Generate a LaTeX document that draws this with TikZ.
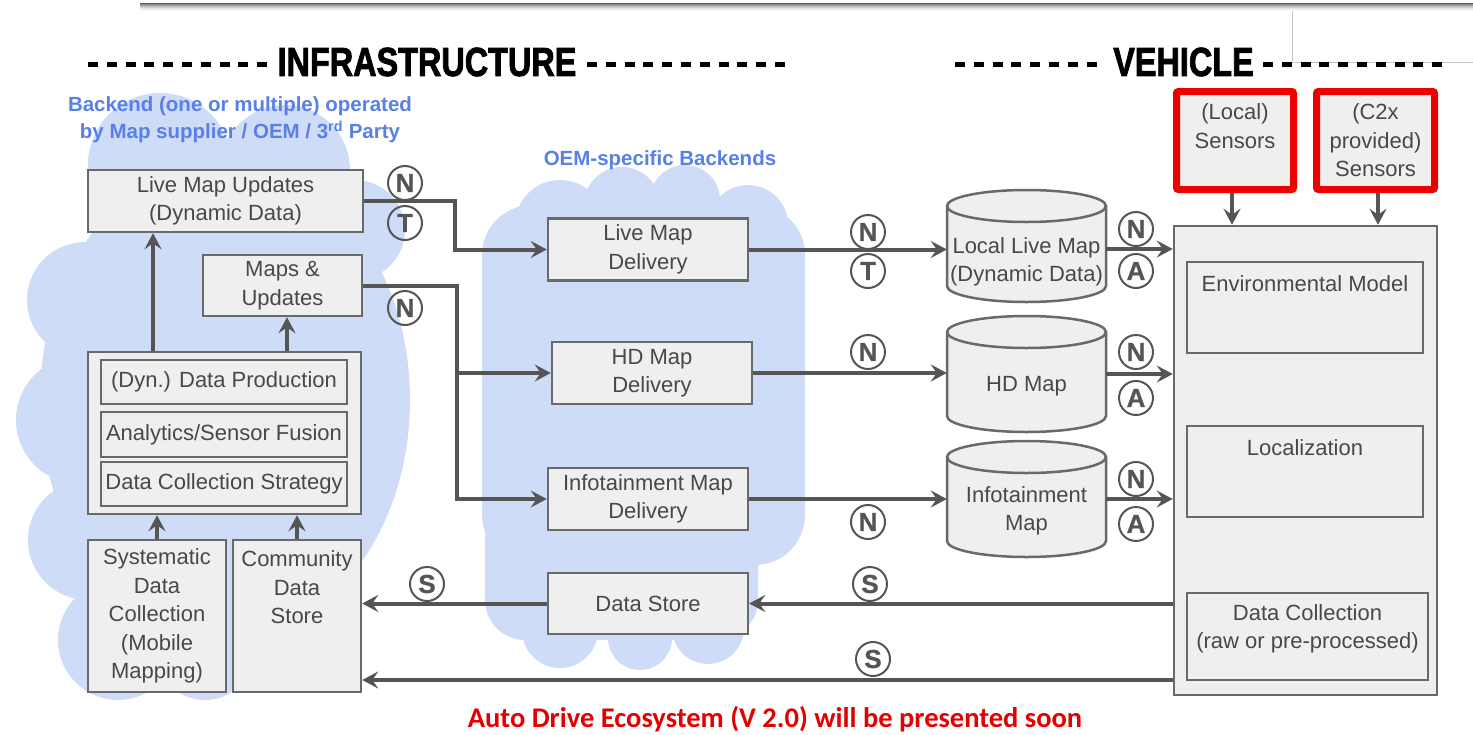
\documentclass[tikz,border=0pt]{standalone}
\usepackage{fontspec}
\usepackage{graphicx}
\setmainfont{Liberation Sans}
\newfontfamily\headfont[FakeBold=2.2]{Liberation Sans}
\newfontfamily\tagfont[FakeBold=0.8]{Liberation Sans}
\newfontfamily\notefont{Carlito}
\usetikzlibrary{arrows.meta}

\definecolor{cloudblue}{RGB}{207,220,247}
\definecolor{labelblue}{RGB}{88,128,232}
\definecolor{boxline}{RGB}{105,105,105}
\definecolor{boxfill}{RGB}{239,239,239}
\definecolor{inktext}{RGB}{72,72,72}
\definecolor{wire}{RGB}{85,85,85}
\definecolor{sensorred}{RGB}{236,0,0}
\definecolor{noteRed}{RGB}{228,0,0}

\tikzset{
  txt/.style={inner sep=0pt, align=center, text=inktext,
    font=\fontsize{22}{28.5}\selectfont},
  box/.style={txt, draw=boxline, fill=boxfill, line width=2.5pt},
  sensorbox/.style={txt, draw=sensorred, fill=boxfill, line width=7pt,
    rounded corners=2pt},
  holder/.style={inner sep=0pt, minimum width=159pt, minimum height=100pt},
  cylbody/.style={draw=boxline, fill=boxfill, line width=2.5pt},
  wireline/.style={draw=wire, line width=4pt},
  wirearrow/.style={wireline, -{Stealth[length=16pt,width=17pt,inset=6pt]}},
  tag/.style={circle, draw=wire, line width=2pt, inner sep=0pt,
    minimum size=34pt, text=wire,
    font=\tagfont\bfseries\fontsize{26}{26}\selectfont},
  head/.style={inner sep=0pt, text=black,
    font=\headfont\bfseries\fontsize{40.5}{40.5}\selectfont},
  dashrow/.style={draw=black, line width=5pt, dash pattern=on 10pt off 8.8pt},
  bluelabel/.style={inner sep=0pt, align=center, text=labelblue,
    font=\bfseries\fontsize{20.5}{27}\selectfont},
  note/.style={inner sep=0pt, text=noteRed,
    font=\notefont\bfseries\fontsize{28.5}{30}\selectfont},
}

\begin{document}
\begin{tikzpicture}[x=1pt, y=-1pt]
\useasboundingbox (0,0) rectangle (1473,734);

% slide panel edge with its drop shadow
\fill[white] (140,-4) rectangle (1473,3);
\foreach \i/\c in {4/62,5/48,6/36,7/26,8/18,9/11,10/6,11/3}
  \fill[black!\c] (140,\i-1) rectangle (1473,\i);
\draw[black!22, line width=1pt] (1292,11) -- (1292,62) -- (1473,62);

% backend clouds
\fill[cloudblue] (225,400) ellipse[x radius=185, y radius=240]
  (160,165) circle[radius=72]
  (285,170) circle[radius=65]
  (355,230) circle[radius=50]
  (85,300) circle[radius=58]
  (80,420) circle[radius=64]
  (88,540) circle[radius=60]
  (118,640) circle[radius=60]
  (205,650) circle[radius=50];
\fill[cloudblue, rounded corners=50pt] (482,205) rectangle (805,565);
\fill[cloudblue, rounded corners=40pt] (485,500) rectangle (758,640);
\fill[cloudblue]
  (560,225) circle[radius=45]
  (622,205) circle[radius=38]
  (685,200) circle[radius=35]
  (748,225) circle[radius=40]
  (560,630) circle[radius=38]
  (640,638) circle[radius=32]
  (708,628) circle[radius=36];

% section headings
\draw[dashrow] (88,64) -- (268,64);
\draw[dashrow] (587,64) -- (787,64);
\draw[dashrow] (955,64) -- (1105,64);
\draw[dashrow] (1263,64) -- (1443,64);
\node[head] (infra) at (427,62) {\scalebox{0.8}[1]{INFRASTRUCTURE}};
\node[head] (vehicle) at (1183.5,62) {\scalebox{0.8}[1]{VEHICLE}};

\node[bluelabel] (backend) at (240,120)
  {Backend (one or multiple) operated\\by Map supplier / OEM / 3\textsuperscript{rd} Party};
\node[bluelabel] (oem) at (660,160) {OEM-specific Backends};

% infrastructure side
\node[box, minimum width=275pt, minimum height=62pt] (lmu) at (225.5,201)
  {Live Map Updates\\(Dynamic Data)};
\node[box, minimum width=159pt, minimum height=61pt] (mu) at (282.5,285.5)
  {Maps \&\\Updates};
\node[box, minimum width=273pt, minimum height=162pt] (stack) at (224.5,433) {};
\node[box, minimum width=246pt, minimum height=44pt] (dp) at (224,382)
  {(Dyn.) Data Production};
\node[box, minimum width=246pt, minimum height=45pt] (asf) at (224,434.5)
  {Analytics/Sensor Fusion};
\node[box, minimum width=246pt, minimum height=44pt] (dcs) at (224,484)
  {Data Collection Strategy};
\node[box, minimum width=138pt, minimum height=152pt] (sys) at (157,616)
  {Systematic\\Data\\Collection\\(Mobile\\Mapping)};
\node[box, minimum width=128pt, minimum height=152pt] (com) at (297,616)
  {Community\\Data\\Store\\~\\~};

% OEM backends
\node[box, minimum width=200pt, minimum height=62pt] (lmd) at (648,249.5)
  {Live Map\\Delivery};
\node[box, minimum width=200pt, minimum height=62pt] (hdd) at (652,373)
  {HD Map\\Delivery};
\node[box, minimum width=200pt, minimum height=62pt] (imd) at (648,499)
  {Infotainment Map\\Delivery};
\node[box, minimum width=200pt, minimum height=61pt] (ds) at (648,603.5)
  {Data Store};

% map stores in the vehicle
\foreach \t/\b in {190/302, 316/432, 441/557}{
  \path[cylbody] (947,\t+16) -- (947,\b-16)
    arc[start angle=180, end angle=0, x radius=79.5, y radius=16]
    -- (1106,\t+16)
    arc[start angle=0, end angle=-180, x radius=79.5, y radius=16] -- cycle;
  \draw[boxline, line width=2.5pt] (947,\t+16)
    arc[start angle=180, end angle=0, x radius=79.5, y radius=16];
}
\node[holder] (llm) at (1026.5,249) {};
\node[holder] (hdm) at (1026.5,374) {};
\node[holder] (inf) at (1026.5,499) {};
\node[txt] (llm-t) at (1026.5,262) {Local Live Map\\(Dynamic Data)};
\node[txt] (hdm-t) at (1026.5,386) {HD Map};
\node[txt] (inf-t) at (1026.5,511) {Infotainment\\Map};

% vehicle
\node[box, minimum width=263pt, minimum height=469pt] (veh) at (1305.5,460.5) {};
\node[box, minimum width=236pt, minimum height=91pt] (env) at (1305,307.5) {};
\node[box, minimum width=236pt, minimum height=91pt] (loc) at (1305,471.5) {};
\node[box, minimum width=241pt, minimum height=87pt] (dc) at (1307.5,636.5) {};
\node[txt] (env-t) at (1305,284) {Environmental Model};
\node[txt] (loc-t) at (1305,448) {Localization};
\node[txt] (dc-t) at (1307.5,629) {Data Collection\\(raw or pre-processed)};

\node[sensorbox, minimum width=117pt, minimum height=98pt] (ls) at (1235,140.5)
  {(Local)\\Sensors\\~};
\node[sensorbox, minimum width=118pt, minimum height=98pt] (cs) at (1375.5,140.5)
  {(C2x\\provided)\\Sensors};

% connectors
\coordinate (jog) at (455,0);
\coordinate (split) at (457,0);
\coordinate (bottomrow) at (0,680);
\draw[wirearrow] (sys.north) -- (sys.north |- stack.south);
\draw[wirearrow] (com.north) -- (com.north |- stack.south);
\draw[wirearrow] (stack.north -| 153,0) -- (lmu.south -| 153,0);
\draw[wirearrow] (stack.north -| 287,0) -- (mu.south -| 287,0);
\draw[wirearrow] (lmu.east) -| (jog |- lmd.west) -- (lmd.west);
\draw[wirearrow] (mu.east) -| (split |- imd.west) -- (imd.west);
\draw[wirearrow] (split |- hdd.west) -- (hdd.west);
\draw[wirearrow] (lmd.east) -- (lmd.east -| llm.west);
\draw[wirearrow] (hdd.east) -- (hdd.east -| hdm.west);
\draw[wirearrow] (imd.east) -- (imd.east -| inf.west);
\draw[wirearrow] (llm.east) -- (llm.east -| veh.west);
\draw[wirearrow] (hdm.east) -- (hdm.east -| veh.west);
\draw[wirearrow] (inf.east) -- (inf.east -| veh.west);
\draw[wirearrow] (ls.south -| 1232,0) -- (veh.north -| 1232,0);
\draw[wirearrow] (cs.south -| 1378,0) -- (veh.north -| 1378,0);
\draw[wirearrow] (veh.west |- ds.east) -- (ds.east);
\draw[wirearrow] (ds.west) -- (ds.west -| com.east);
\draw[wirearrow] (veh.west |- bottomrow) -- (com.east |- bottomrow);

% interface tags
\node[tag] (tn1) at (405,183) {N};
\node[tag] (tt1) at (405,223) {T};
\node[tag] (tn2) at (405,308) {N};
\node[tag] (tn3) at (868,232) {N};
\node[tag] (tt3) at (868,271) {T};
\node[tag] (tn4) at (868,352) {N};
\node[tag] (tn5) at (868,522) {N};
\node[tag] (ts1) at (870,584) {S};
\node[tag] (ts2) at (427,584) {S};
\node[tag] (ts3) at (873,659) {S};
\node[tag] (tn6) at (1136,229) {N};
\node[tag] (ta6) at (1136,271) {A};
\node[tag] (tn7) at (1136,352) {N};
\node[tag] (ta7) at (1136,398) {A};
\node[tag] (tn8) at (1136,479) {N};
\node[tag] (ta8) at (1136,524) {A};

\node[note] (soon) at (775,719) {Auto Drive Ecosystem (V 2.0) will be presented soon};
\end{tikzpicture}
\end{document}
